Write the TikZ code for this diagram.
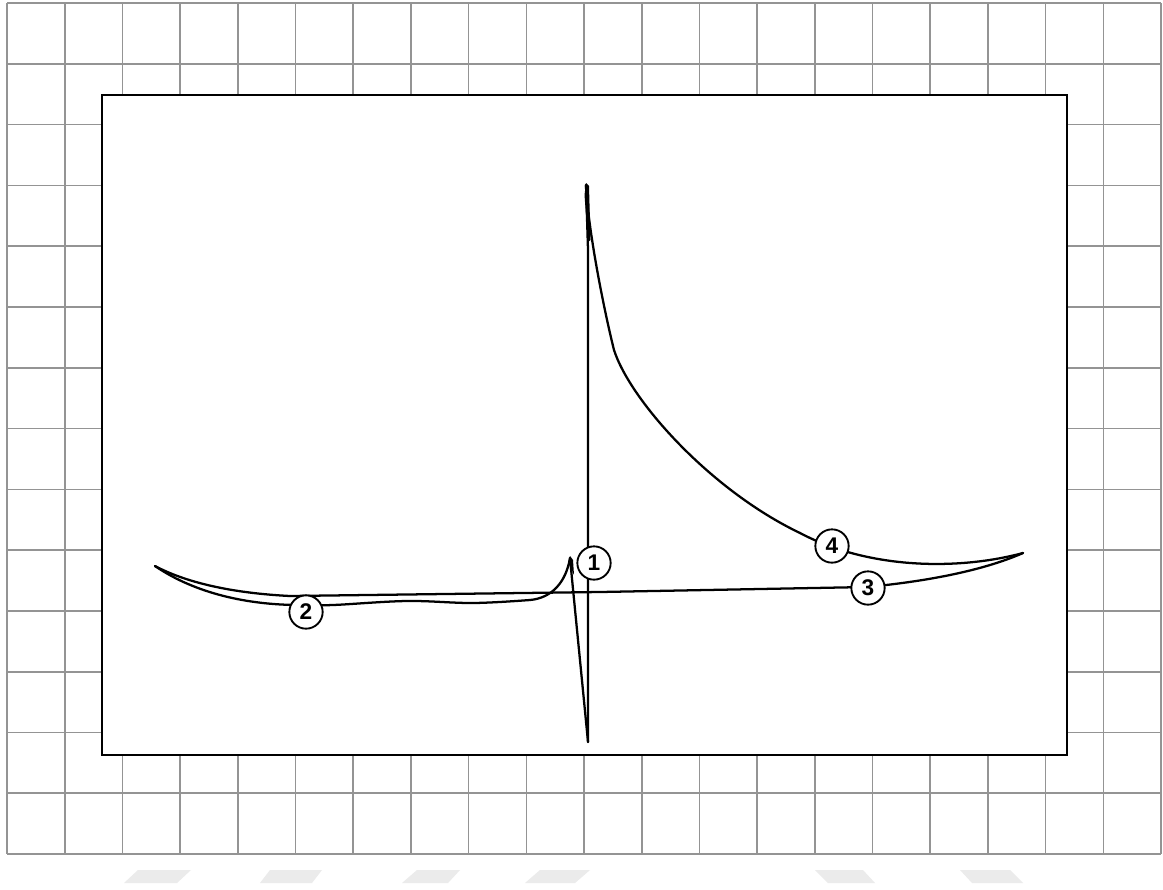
\documentclass[tikz,border=0pt]{standalone}
\usepackage{fontspec}
\setmainfont{Liberation Sans}
\begin{document}
\begin{tikzpicture}[x=0.75pt,y=-0.75pt,
  gridline/.style={draw=black!42, line width=1.2pt},
  trace/.style={line width=1.7pt, line cap=round, line join=round},
  lbl/.style={circle, draw, line width=1.4pt, fill=white, minimum size=25pt, inner sep=0pt, font=\fontsize{17}{17}\selectfont\bfseries},
  wm/.style={fill=black!8, draw=none}]
\useasboundingbox (0,0) rectangle (1163,889);
\fill[white] (0,0) rectangle (1163,889);
% grid
\foreach \k in {0,...,20} \draw[gridline] ({7+57.7*\k},3) -- ({7+57.7*\k},854);
\foreach \k in {0,...,14} \draw[gridline] (7,{3+60.79*\k}) -- (1161,{3+60.79*\k});
% chart panel
\draw[fill=white, line width=1.5pt] (102,95) rectangle (1067,755);
% faint marks below
\fill[wm] (124,883) -- (177,883) -- (191,870) -- (138,870) -- cycle;
\fill[wm] (260,883) -- (312,883) -- (322,870) -- (270,870) -- cycle;
\fill[wm] (402,883) -- (448,883) -- (460,870) -- (417,870) -- cycle;
\fill[wm] (525,883) -- (575,883) -- (590,870) -- (540,870) -- cycle;
\fill[wm] (828,883) -- (875,883) -- (863,870) -- (815,870) -- cycle;
\fill[wm] (972,883) -- (1023,883) -- (1010,870) -- (960,870) -- cycle;
% trace: lower branch (2) up to the small peak
\draw[trace] (155,566) .. controls (190,590) and (240,605) .. (300,605);
\draw[trace] plot[smooth, tension=0.6] coordinates {(300,605) (333,605) (407,601) (473,603) (530,600)};
\draw[trace] (530,600) .. controls (552,598) and (566,582) .. (570,558);
\fill (568,562) -- (570,556) -- (573,560) -- (574,575) -- cycle;
% small peak down to bottom spike
\draw[trace] (570,558) .. controls (574,600) and (582,680) .. (588,742);
% vertical rise
\draw[trace] (588,742) -- (588,250) -- (586,185);
\fill (584.5,195) -- (586,183) -- (589,186) -- (590.5,240) -- (588,242) -- cycle;
% expansion curve (4)
\draw[trace] (586,185) .. controls (588,230) and (604,310) .. (614,350)
  .. controls (630,400) and (710,490) .. (800,533)
  .. controls (870,570) and (960,570) .. (1023,553);
% return (3)
\draw[trace] (1023,553) .. controls (980,572) and (920,582) .. (867,587);
\draw[trace] (867,587) -- (600,592) -- (290,596);
\draw[trace] (290,596) .. controls (230,593) and (185,582) .. (155,566);
% labels
\node[lbl] (n1) at (594,563) {1};
\node[lbl] (n2) at (306,612) {2};
\node[lbl] (n3) at (868,588) {3};
\node[lbl] (n4) at (832,546) {4};
\end{tikzpicture}
\end{document}
